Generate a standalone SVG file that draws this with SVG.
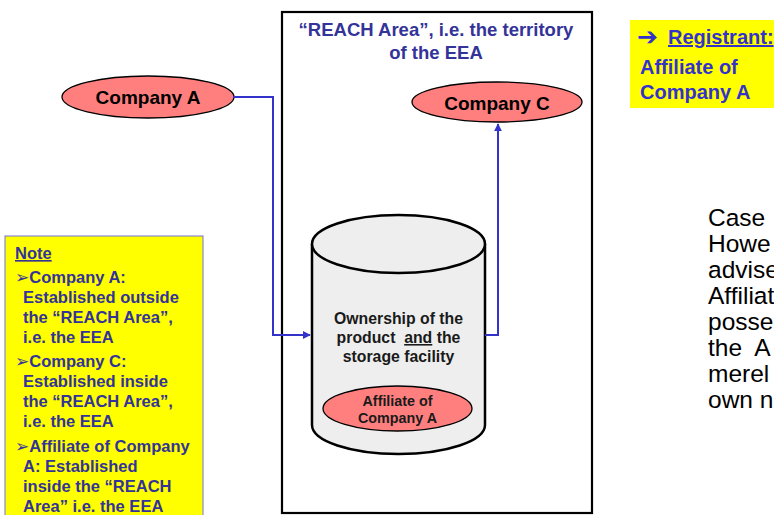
<svg xmlns="http://www.w3.org/2000/svg" width="774" height="515" viewBox="0 0 774 515">
<style>
.b{font-family:"Liberation Sans",Arial,sans-serif;font-weight:bold}
.r{font-family:"Liberation Sans",Arial,sans-serif}
.node{fill:#ff7f7f;stroke:#000;stroke-width:1.3}
.conn{fill:none;stroke:#3333cc;stroke-width:2}
.nt{fill:#333399;font-size:16.5px}
.bul{font-family:"DejaVu Sans",sans-serif;font-size:17px;font-weight:normal}
</style>
<defs>
<marker id="ah" viewBox="0 0 10 10" refX="9" refY="5" markerWidth="4" markerHeight="4" orient="auto" markerUnits="strokeWidth">
<path d="M0,0 L10,5 L0,10 z" fill="#3333cc"/>
</marker>
</defs>
<rect width="774" height="515" fill="#fff"/>

<g id="reach-area">
<rect x="282" y="12" width="310" height="501" fill="#fff" stroke="#000" stroke-width="2.2"/>
<text class="b" x="436" y="36" font-size="18.5" fill="#333399" text-anchor="middle">“REACH Area”, i.e. the territory</text>
<text class="b" x="436" y="59" font-size="18.5" fill="#333399" text-anchor="middle">of the EEA</text>
</g>

<g id="company-a">
<ellipse class="node" cx="148" cy="97" rx="86" ry="21"/>
<text class="b" x="148" y="104" font-size="19" text-anchor="middle">Company A</text>
</g>

<g id="company-c">
<ellipse class="node" cx="497" cy="102" rx="85" ry="20"/>
<text class="b" x="497" y="109.5" font-size="19" text-anchor="middle">Company C</text>
</g>

<g id="storage">
<path d="M312,244 L312,425 A86.5,29 0 0 0 485,425 L485,244" fill="#eeeeee" stroke="#000" stroke-width="2.5"/>
<ellipse cx="398.5" cy="244" rx="86.5" ry="29" fill="#eeeeee" stroke="#000" stroke-width="2.5"/>
<text class="b" x="398.5" y="324" font-size="15.8" fill="#1a1a1a" text-anchor="middle">Ownership of the</text>
<text class="b" x="398.5" y="343" font-size="15.8" fill="#1a1a1a" text-anchor="middle" xml:space="preserve">product  <tspan text-decoration="underline">and</tspan> the</text>
<text class="b" x="398.5" y="362" font-size="15.8" fill="#1a1a1a" text-anchor="middle">storage facility</text>
</g>

<g id="affiliate">
<ellipse class="node" cx="397.5" cy="408.5" rx="74.5" ry="22.5"/>
<text class="b" x="397.5" y="406" font-size="14.3" fill="#1a1a1a" text-anchor="middle">Affiliate of</text>
<text class="b" x="397.5" y="423" font-size="14.3" fill="#1a1a1a" text-anchor="middle">Company A</text>
</g>

<g id="connectors">
<polyline class="conn" points="233,97 273,97 273,335 310,335" marker-end="url(#ah)"/>
<polyline class="conn" points="485,335 498,335 498,124" marker-end="url(#ah)"/>
</g>

<g id="registrant">
<rect x="630" y="20" width="144" height="88" fill="#ffff00"/>
<text x="637" y="45" font-family="'DejaVu Sans',sans-serif" font-weight="bold" font-size="25" fill="#3333cc">➔</text>
<text class="b" x="668" y="44" font-size="20" fill="#3333cc" text-decoration="underline">Registrant:</text>
<text class="b" x="640" y="74" font-size="20" fill="#3333cc">Affiliate of</text>
<text class="b" x="640" y="99" font-size="20" fill="#3333cc">Company A</text>
</g>

<g id="note">
<rect x="5" y="236" width="198" height="290" fill="#ffff00" stroke="#7070dd" stroke-width="1"/>
<text class="b nt" x="15" y="259" text-decoration="underline">Note</text>
<text class="b nt" x="15" y="283"><tspan class="bul">➢</tspan>Company A:</text>
<text class="b nt" x="23" y="303">Established outside</text>
<text class="b nt" x="23" y="323">the “REACH Area”,</text>
<text class="b nt" x="23" y="343">i.e. the EEA</text>
<text class="b nt" x="15" y="367"><tspan class="bul">➢</tspan>Company C:</text>
<text class="b nt" x="23" y="387">Established inside</text>
<text class="b nt" x="23" y="407">the “REACH Area”,</text>
<text class="b nt" x="23" y="427">i.e. the EEA</text>
<text class="b nt" x="15" y="452"><tspan class="bul">➢</tspan>Affiliate of Company</text>
<text class="b nt" x="23" y="472">A: Established</text>
<text class="b nt" x="23" y="492">inside the “REACH</text>
<text class="b nt" x="23" y="512">Area” i.e. the EEA</text>
</g>

<g id="case-text" class="r" font-size="24.5" fill="#000">
<text x="708" y="226">Case</text>
<text x="708" y="252">Howe</text>
<text x="708" y="278">advise</text>
<text x="708" y="304">Affiliat</text>
<text x="708" y="330">posse</text>
<text x="708" y="356" xml:space="preserve">the  A</text>
<text x="708" y="382">merel</text>
<text x="708" y="408">own n</text>
</g>
</svg>
